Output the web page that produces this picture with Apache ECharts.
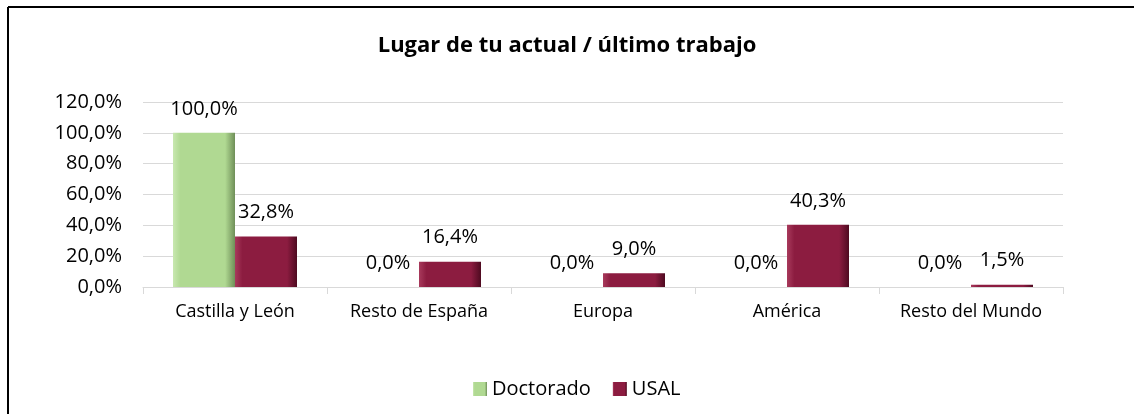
<!DOCTYPE html>
<html>
<head>
<meta charset="utf-8">
<script src="https://cdn.jsdelivr.net/npm/echarts@6/dist/echarts.min.js"></script>
<style>
  html, body { margin: 0; padding: 0; background: #fff; }
  #chart { width: 1134px; height: 414px; }
</style>
</head>
<body>
<div id="chart"></div>
<script>
// datos del gráfico
var categorias = ['Castilla y León', 'Resto de España', 'Europa', 'América', 'Resto del Mundo'];
var doctorado = [100.0, 0.0, 0.0, 0.0, 0.0];
var usal = [32.8, 16.4, 9.0, 40.3, 1.5];
var nombresSeries = ['Doctorado', 'USAL'];

var fuente = '"Open Sans", sans-serif';

// formato con coma decimal
function pct(v) {
    return v.toFixed(1).replace('.', ',') + '%';
}

// degradado horizontal para simular el bisel (izquierda clara, derecha oscura)
function bisel(claroBorde, base, oscuro) {
    return new echarts.graphic.LinearGradient(0, 0, 1, 0, [
        { offset: 0, color: claroBorde },
        { offset: 0.12, color: base },
        { offset: 0.84, color: base },
        { offset: 1, color: oscuro }
    ]);
}

var estiloEtiqueta = {
    show: true, position: 'top', distance: 14,
    fontFamily: fuente, fontSize: 20, color: '#000',
    formatter: function (p) { return pct(p.value); }
};

var myChart = echarts.init(document.getElementById('chart'));
myChart.setOption({
    animation: false,
    title: {
        text: 'Lugar de tu actual / último trabajo',
        left: 'center',
        top: 30,
        textStyle: { fontFamily: fuente, fontSize: 22, fontWeight: 'bold', color: '#000' }
    },
    legend: {
        data: nombresSeries,
        top: 374,
        left: 468,
        icon: 'rect',
        itemWidth: 14,
        itemHeight: 14,
        itemGap: 22,
        textStyle: { fontFamily: fuente, fontSize: 20, color: '#000' }
    },
    grid: { left: 143, right: 71, top: 102, bottom: 127 },
    xAxis: {
        type: 'category',
        data: categorias,
        axisLine: { lineStyle: { color: '#d9d9d9' } },
        axisTick: { show: true, length: 7, lineStyle: { color: '#d9d9d9' } },
        axisLabel: { interval: 0, fontFamily: fuente, fontSize: 18, color: '#000', margin: 16 }
    },
    yAxis: {
        type: 'value',
        min: 0,
        max: 120,
        interval: 20,
        axisLine: { show: false },
        axisLabel: {
            fontFamily: fuente, fontSize: 20, color: '#000', margin: 21,
            formatter: function (v) { return pct(v); }
        },
        splitLine: { lineStyle: { color: '#d9d9d9' } }
    },
    series: [
        {
            name: nombresSeries[0],
            type: 'bar',
            data: doctorado,
            barWidth: 62,
            barGap: '0%',
            itemStyle: { color: bisel('#c8e8b0', '#b0d992', '#6f8f58') },
            label: estiloEtiqueta
        },
        {
            name: nombresSeries[1],
            type: 'bar',
            data: usal,
            barWidth: 62,
            itemStyle: { color: bisel('#a83a5c', '#8c1c40', '#4e0a20') },
            label: estiloEtiqueta
        }
    ],
    graphic: [
        { type: 'line', shape: { x1: 8, y1: 7, x2: 1134, y2: 7 }, style: { stroke: '#000', lineWidth: 2 } },
        { type: 'line', shape: { x1: 8, y1: 7, x2: 8, y2: 414 }, style: { stroke: '#000', lineWidth: 2 } }
    ]
});

window.onresize = function () {
    myChart.resize();
};
</script>
</body>
</html>
